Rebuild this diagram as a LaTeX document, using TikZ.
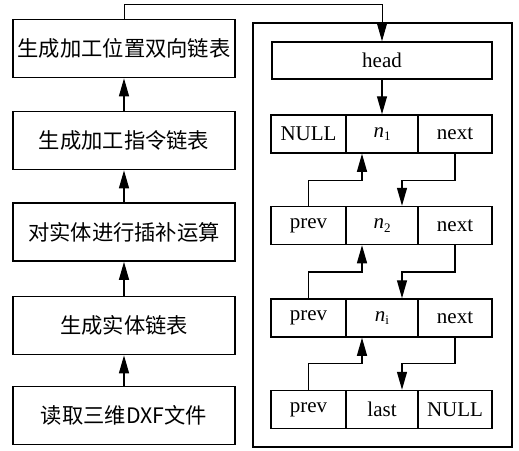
\documentclass[tikz,border=0pt]{standalone}
\usepackage{fontspec}
\setmainfont{Liberation Serif}
\newfontfamily\cjk{Noto Sans CJK SC}
\usetikzlibrary{arrows.meta}
\newcommand\mysub[1]{\raisebox{-0.4ex}{\fontsize{13}{13}\selectfont #1}}
\begin{document}
\begin{tikzpicture}[x=1pt,y=-1pt,
  box/.style={draw,line width=1.7pt,minimum width=222pt,minimum height=58pt,inner sep=0pt,font=\cjk\fontsize{21.3}{21.3}\selectfont},
  cell/.style={draw,line width=1.5pt,minimum height=38pt,inner sep=0pt,font=\fontsize{21}{21}\selectfont},
  arr/.style={line width=1.3pt,-{Triangle[length=18pt,width=10pt]}},
  thin/.style={line width=1pt,-{Triangle[length=18pt,width=10pt]}}]
\useasboundingbox (0,0) rectangle (519,450);
% left column
\node[box] (b1) at (124,48.5) {生成加工位置双向链表};
\node[box] (b2) at (124,140.5) {生成加工指令链表};
\node[box] (b3) at (124,232) {对实体进行插补运算};
\node[box] (b4) at (124,325.5) {生成实体链表};
\node[box] (b5) at (124,415.5) {读取三维DXF文件};
\draw[arr] (b5.north) -- (b4.south);
\draw[arr] (b4.north) -- (b3.south);
\draw[arr] (b3.north) -- (b2.south);
\draw[arr] (b2.north) -- (b1.south);
% right frame
\node[draw,line width=1.8pt,minimum width=259pt,minimum height=424pt,inner sep=0pt] (frame) at (382.5,235) {};
\node[cell,minimum width=220pt,minimum height=37pt] (head) at (382,60.5) {head};
% rows
\node[cell,minimum width=75pt] (l1) at (308.5,134) {NULL};
\node[cell,minimum width=72pt] (m1) at (382,134) {\textit{n}\mysub{1}};
\node[cell,minimum width=74pt] (r1) at (455,134) {next};
\node[cell,minimum width=75pt] (l2) at (308.5,225.5) {prev};
\node[cell,minimum width=72pt] (m2) at (382,225.5) {\textit{n}\mysub{2}};
\node[cell,minimum width=74pt] (r2) at (455,225.5) {next};
\node[cell,minimum width=75pt] (l3) at (308.5,318) {prev};
\node[cell,minimum width=72pt] (m3) at (382,318) {\textit{n}\mysub{i}};
\node[cell,minimum width=74pt] (r3) at (455,318) {next};
\node[cell,minimum width=75pt] (l4) at (308.5,409.5) {prev};
\node[cell,minimum width=72pt] (m4) at (382,409.5) {last};
\node[cell,minimum width=74pt] (r4) at (455,409.5) {NULL};
% connectors
\coordinate (tc) at (382,4);
\draw[thin] (b1.north) |- (tc) -- (head.north);
\draw[arr] (head.south) -- (m1.north);
\coordinate (pa1) at (362,180.5);
\coordinate (pa2) at (362,272);
\coordinate (pa3) at (362,363.5);
\coordinate (na1) at (402,180.5);
\coordinate (na2) at (402,272);
\coordinate (na3) at (402,363.5);
\draw[arr] (l2.north) |- (pa1) -- (pa1 |- m1.south);
\draw[arr] (l3.north) |- (pa2) -- (pa2 |- m2.south);
\draw[arr] (l4.north) |- (pa3) -- (pa3 |- m3.south);
\draw[arr] (r1.south) |- (na1) -- (na1 |- m2.north);
\draw[arr] (r2.south) |- (na2) -- (na2 |- m3.north);
\draw[arr] (r3.south) |- (na3) -- (na3 |- m4.north);
\end{tikzpicture}
\end{document}
